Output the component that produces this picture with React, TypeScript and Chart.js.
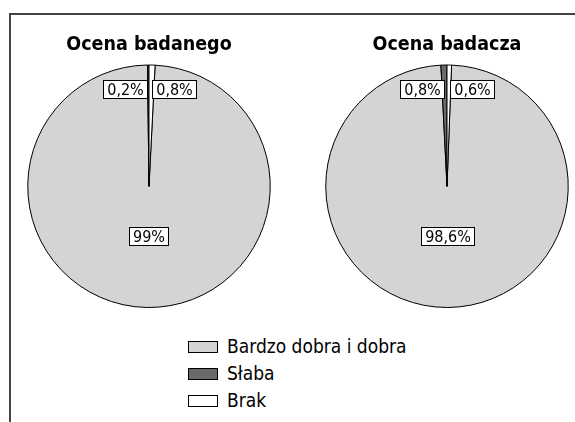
import React, { useEffect, useRef } from "react";
import { Chart, registerables } from "chart.js";

Chart.register(...registerables);

const categories = ["Bardzo dobra i dobra", "Słaba", "Brak"];
const sliceColors = ["#d4d4d4", "#6a6a6a", "#ffffff"];
const titles = ["Ocena badanego", "Ocena badacza"];
const valuesBadanego = [99, 0.2, 0.8];
const valuesBadacza = [98.6, 0.8, 0.6];
const labelsBadanego = ["99%", "0,2%", "0,8%"];
const labelsBadacza = ["98,6%", "0,8%", "0,6%"];

const FONT = "'DejaVu Sans Condensed', 'Liberation Sans Narrow', sans-serif";

const boxLabels = {
  id: "boxLabels",
  afterDatasetsDraw(chart: any, _args: any, opts: any) {
    const ctx = chart.ctx;
    const meta = chart.getDatasetMeta(0);
    const texts: string[] = opts.texts || [];
    ctx.save();
    ctx.font = `16px ${FONT}`;
    ctx.textBaseline = "middle";
    ctx.textAlign = "center";
    meta.data.forEach((arc: any, i: number) => {
      const p = arc.getProps(["x", "y", "startAngle", "endAngle", "outerRadius"], true);
      const mid = (p.startAngle + p.endAngle) / 2;
      const span = p.endAngle - p.startAngle;
      const txt = texts[i];
      const tw = ctx.measureText(txt).width;
      const w = Math.round(tw + 7);
      const h = 18;
      let bx: number, by: number;
      if (span > Math.PI) {
        const r = p.outerRadius * 0.41;
        const px = p.x + r * Math.cos(mid);
        const py = p.y + r * Math.sin(mid);
        bx = px - w / 2;
        by = py - h / 2;
      } else {
        const r = p.outerRadius * 0.8;
        const px = p.x + r * Math.cos(mid);
        const py = p.y + r * Math.sin(mid);
        by = py - h / 2;
        bx = Math.cos(mid) >= 0 ? px + 1 : px - 1 - w;
      }
      bx = Math.round(bx) + 0.5;
      by = Math.round(by) + 0.5;
      ctx.fillStyle = "#ffffff";
      ctx.fillRect(bx, by, w, h);
      ctx.strokeStyle = "#000000";
      ctx.lineWidth = 1;
      ctx.strokeRect(bx, by, w, h);
      ctx.fillStyle = "#000000";
      ctx.fillText(txt, bx + w / 2, by + h / 2 + 1);
    });
    ctx.restore();
  },
};

function PieChart({ title, values, texts, left }: { title: string; values: number[]; texts: string[]; left: number }) {
  const ref = useRef<HTMLCanvasElement>(null);
  useEffect(() => {
    if (!ref.current) return;
    const total = values.reduce((a, b) => a + b, 0);
    const rotation = (values[values.length - 1] / total) * 360;
    const chart = new Chart(ref.current, {
      type: "pie",
      data: {
        labels: categories,
        datasets: [
          {
            data: values,
            backgroundColor: sliceColors,
            borderColor: "#000000",
            borderWidth: 1,
          },
        ],
      },
      options: {
        responsive: false,
        animation: false,
        rotation,
        layout: { padding: 0 },
        plugins: {
          legend: { display: false },
          tooltip: { enabled: false },
          title: {
            display: true,
            text: title,
            color: "#000000",
            font: { family: FONT, size: 19.5, weight: "bold", lineHeight: 1.0 },
            padding: { top: 7, bottom: 10 },
          },
          boxLabels: { texts },
        } as any,
      },
      plugins: [boxLabels],
    });
    return () => chart.destroy();
  }, []);
  return (
    <canvas
      ref={ref}
      width={246}
      height={280}
      style={{ position: "absolute", left, top: 28, width: 246, height: 280 }}
    />
  );
}

export default function App() {
  return (
    <div
      style={{
        position: "fixed",
        left: 0,
        top: 0,
        width: 575,
        height: 422,
        background: "#ffffff",
        overflow: "hidden",
      }}
    >
      <div
        style={{
          position: "absolute",
          left: 9,
          top: 13,
          width: 570,
          height: 420,
          borderTop: "2px solid #444444",
          borderLeft: "2px solid #444444",
        }}
      />
      <PieChart title={titles[0]} values={valuesBadanego} texts={labelsBadanego} left={26} />
      <PieChart title={titles[1]} values={valuesBadacza} texts={labelsBadacza} left={324} />
      <div style={{ position: "absolute", left: 188, top: 333 }}>
        {categories.map((c, i) => (
          <div key={c} style={{ display: "flex", alignItems: "center", height: 27 }}>
            <div
              style={{
                width: 28,
                height: 10,
                background: sliceColors[i],
                border: "1px solid #000000",
                marginRight: 9,
              }}
            />
            <span style={{ fontFamily: FONT, fontSize: 19, color: "#000000", lineHeight: "27px" }}>{c}</span>
          </div>
        ))}
      </div>
    </div>
  );
}
